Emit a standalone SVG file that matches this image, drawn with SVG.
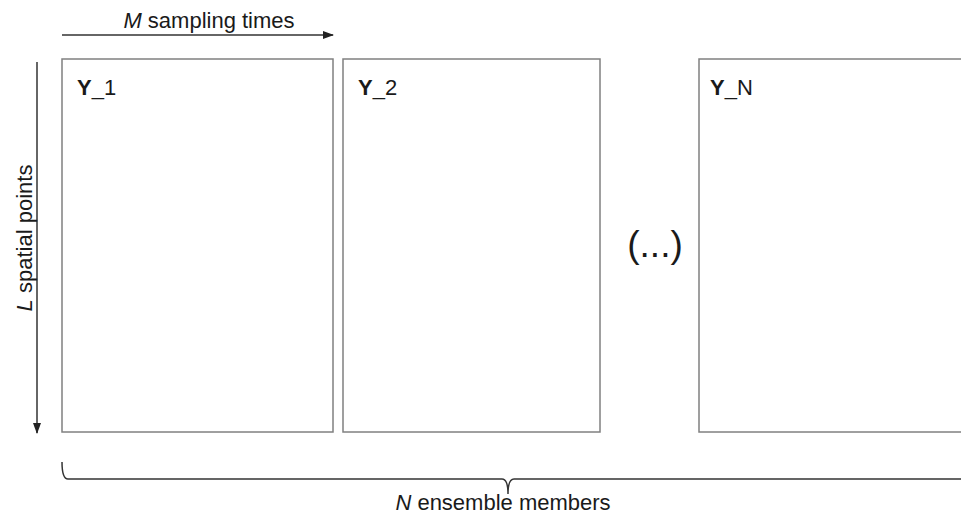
<svg xmlns="http://www.w3.org/2000/svg" width="961" height="522" viewBox="0 0 961 522">
<style>
.box{fill:#fff;stroke:#808080;stroke-width:1.5}
.ln{fill:none;stroke:#333;stroke-width:1.5}
text{font-family:"Liberation Sans",Arial,sans-serif;fill:#1a1a1a}
.lbl{font-size:22px}
.ttl{font-size:22px}
</style>
<defs>
<marker id="ah" markerWidth="11" markerHeight="8" refX="10" refY="4" orient="auto" markerUnits="userSpaceOnUse">
<path d="M0,0 L11,4 L0,8 z" fill="#222"/>
</marker>
</defs>
<rect width="961" height="522" fill="#fff"/>
<g id="connectors">
<line class="ln" x1="62" y1="35" x2="333" y2="35" marker-end="url(#ah)"/>
<line class="ln" x1="37" y1="62" x2="37" y2="433" marker-end="url(#ah)"/>
<path class="ln" d="M62,462 Q62,479 68,479 L502,479 Q508,479 508,494 Q508,479 514,479 L961,479"/>
</g>
<g id="axis-labels">
<text class="lbl" x="209" y="28" text-anchor="middle"><tspan font-style="italic">M</tspan> sampling times</text>
<text class="lbl" transform="translate(32,238) rotate(-90)" text-anchor="middle"><tspan font-style="italic">L</tspan>  spatial points</text>
<text class="lbl" x="503" y="510" text-anchor="middle"><tspan font-style="italic">N</tspan> ensemble members</text>
</g>
<g id="Y1">
<rect class="box" x="62" y="59" width="271" height="373"/>
<text class="ttl" x="77" y="95"><tspan font-weight="bold">Y</tspan>_1</text>
</g>
<g id="Y2">
<rect class="box" x="343" y="59" width="257" height="373"/>
<text class="ttl" x="358" y="95"><tspan font-weight="bold">Y</tspan>_2</text>
</g>
<g id="ellipsis">
<text x="655" y="257" text-anchor="middle" font-size="37">(...)</text>
</g>
<g id="YN">
<rect class="box" x="699" y="59" width="270" height="373"/>
<text class="ttl" x="710" y="95"><tspan font-weight="bold">Y</tspan>_N</text>
</g>
</svg>
